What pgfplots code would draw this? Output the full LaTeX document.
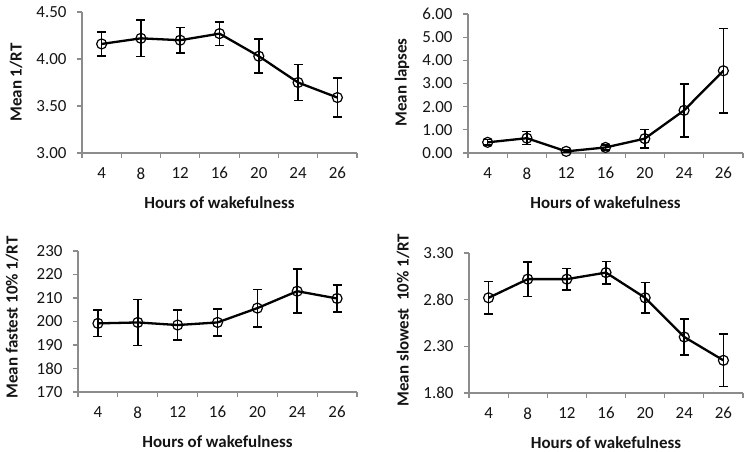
\documentclass[border=0pt]{standalone}
\usepackage{pgfplots}
\pgfplotsset{compat=1.18}
\usepackage{fontspec}
\setmainfont{Carlito}
\definecolor{axgray}{RGB}{140,140,140}
\definecolor{ink}{RGB}{20,20,20}
\pgfplotsset{
  panel/.style={
    scale only axis,
    xmin=0.5, xmax=7.5,
    axis x line*=bottom, axis y line*=left,
    axis line style={draw=axgray, line width=1.1bp, -},
    xtick={1,...,7},
    xticklabels={4,8,12,16,20,24,26},
    minor xtick={0.5,1.5,...,7.5},
    major x tick style={draw=none},
    minor x tick style={draw=axgray, line width=1.1bp},
    y tick style={draw=axgray, line width=1.1bp},
    tick align=outside,
    major tick length=5bp, minor tick length=5bp,
    /pgf/number format/assume math mode=true,
    tick label style={font=\fontsize{17}{18}\selectfont, text=ink},
    xticklabel style={yshift=-6bp},
    yticklabel style={xshift=-7bp},
    xlabel={Hours of wakefulness},
    every axis x label/.style={at={(axis description cs:0.5,0)}, yshift=-50bp, anchor=center,
      font=\bfseries\fontsize{17}{20}\selectfont, text=ink},
    every axis y label/.style={at={(axis description cs:0,0.5)}, xshift=-66bp, rotate=90, anchor=center,
      font=\bfseries\fontsize{17}{20}\selectfont, text=ink},
    clip=false,
  },
  series/.style={
    black, line width=2.3bp, mark=o, mark size=5bp,
    mark options={line width=1.2bp, solid},
    error bars/.cd, y dir=both, y explicit,
    error bar style={line width=1.6bp, black},
    error mark options={rotate=90, mark size=4.5bp, line width=1.6bp, black},
  },
}
\begin{document}
\begin{tikzpicture}
\useasboundingbox (0,0) rectangle (750bp,-452bp);
% Panel 1
\begin{axis}[panel, at={(82bp,-153bp)}, anchor=south west, width=275bp, height=141bp,
  ymin=3, ymax=4.5, ytick={3,3.5,4,4.5},
  yticklabel style={/pgf/number format/.cd, fixed, fixed zerofill, precision=2},
  ylabel={Mean 1/RT}]
\addplot[series] coordinates {
 (1,4.16) +- (0,0.13)
 (2,4.22) +- (0,0.195)
 (3,4.20) +- (0,0.135)
 (4,4.27) +- (0,0.125)
 (5,4.03) +- (0,0.18)
 (6,3.75) +- (0,0.19)
 (7,3.59) +- (0,0.21)
};
\end{axis}
% Panel 2
\begin{axis}[panel, at={(468bp,-153bp)}, anchor=south west, width=275bp, height=139bp,
  ymin=0, ymax=6, ytick={0,1,...,6},
  yticklabel style={/pgf/number format/.cd, fixed, fixed zerofill, precision=2},
  ylabel={Mean lapses}, every axis y label/.append style={xshift=1bp}]
\addplot[series] coordinates {
 (1,0.46) +- (0,0.12)
 (2,0.64) +- (0,0.28)
 (3,0.07) +- (0,0.05)
 (4,0.24) +- (0,0.10)
 (5,0.62) +- (0,0.40)
 (6,1.84) +- (0,1.14)
 (7,3.55) +- (0,1.83)
};
\end{axis}
% Panel 3
\begin{axis}[panel, at={(78bp,-392bp)}, anchor=south west, width=279bp, height=141bp,
  ymin=170, ymax=230, ytick={170,180,...,230},
  ylabel={Mean fastest 10\% 1/RT}, every axis y label/.append style={xshift=4bp}]
\addplot[series] coordinates {
 (1,199.2) +- (0,5.6)
 (2,199.6) +- (0,9.8)
 (3,198.5) +- (0,6.4)
 (4,199.6) +- (0,5.8)
 (5,205.7) +- (0,8.0)
 (6,212.9) +- (0,9.4)
 (7,209.8) +- (0,5.7)
};
\end{axis}
% Panel 4
\begin{axis}[panel, at={(469bp,-393bp)}, anchor=south west, width=274bp, height=140bp,
  ymin=1.8, ymax=3.3, ytick={1.8,2.3,2.8,3.3},
  yticklabel style={/pgf/number format/.cd, fixed, fixed zerofill, precision=2},
  ylabel={Mean slowest\ \ 10\% 1/RT}, every axis y label/.append style={xshift=3bp}]
\addplot[series] coordinates {
 (1,2.82) +- (0,0.175)
 (2,3.02) +- (0,0.185)
 (3,3.02) +- (0,0.115)
 (4,3.09) +- (0,0.12)
 (5,2.82) +- (0,0.165)
 (6,2.40) +- (0,0.195)
 (7,2.15) +- (0,0.28)
};
\end{axis}
\end{tikzpicture}
\end{document}
